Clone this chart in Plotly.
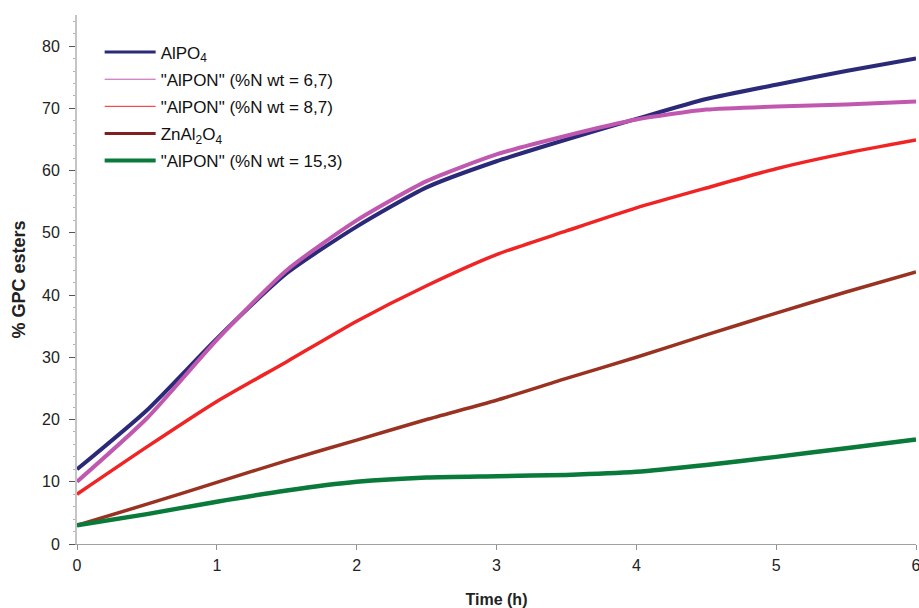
import plotly.graph_objects as go

time_h = [0, 0.5, 1, 1.5, 2, 2.5, 3, 3.5, 4, 4.5, 5, 5.5, 6]

alpo4 = [12, 21.5, 33, 43.5, 51, 57.3, 61.5, 65, 68.3, 71.5, 73.8, 76, 78]
alpon_67 = [10, 20.2, 32.8, 44, 52, 58.3, 62.6, 65.6, 68.2, 69.8, 70.3, 70.6, 71.1]
alpon_87 = [8, 15.6, 22.9, 29.3, 35.8, 41.5, 46.5, 50.3, 54.0, 57.2, 60.3, 62.8, 64.9]
znal2o4 = [3, 6.4, 9.9, 13.4, 16.7, 20.0, 23.1, 26.6, 30.0, 33.6, 37.1, 40.5, 43.7]
alpon_153 = [3, 4.8, 6.8, 8.6, 10.0, 10.7, 10.9, 11.1, 11.6, 12.7, 14.0, 15.4, 16.8]

series_names = [
    "AlPO<sub>4</sub>",
    "\"AlPON\" (%N wt = 6,7)",
    "\"AlPON\" (%N wt = 8,7)",
    "ZnAl<sub>2</sub>O<sub>4</sub>",
    "\"AlPON\" (%N wt = 15,3)",
]
series_values = [alpo4, alpon_67, alpon_87, znal2o4, alpon_153]
plot_colors = ["#2a2a78", "#c058b0", "#f02424", "#9a3222", "#0a7a3a"]
plot_widths = [4, 4, 3.5, 3.5, 4.5]
legend_colors = ["#2a2a78", "#c058b0", "#f02424", "#7f1f1f", "#0a7a3a"]
legend_widths = [3, 1, 1, 3, 4]

FONT = "Arial, Liberation Sans, Helvetica, sans-serif"

fig = go.Figure()
for name, vals, c, w in zip(series_names, series_values, plot_colors, plot_widths):
    fig.add_trace(go.Scatter(x=time_h, y=vals, mode="lines", name=name,
                             line=dict(color=c, width=w, shape="spline", smoothing=0.6),
                             showlegend=False, hoverinfo="x+y"))
for i, (name, c, w) in enumerate(zip(series_names, legend_colors, legend_widths)):
    fig.add_trace(go.Scatter(x=[None], y=[None], mode="lines", name=name,
                             legendgroup=f"g{i}",
                             line=dict(color=c, width=w), showlegend=True))

fig.update_layout(
    width=919, height=608,
    margin=dict(l=77, r=3, t=15, b=64, autoexpand=False),
    paper_bgcolor="white", plot_bgcolor="white",
    font=dict(family=FONT, size=16, color="#222"),
    showlegend=True,
    legend=dict(x=0.027, y=0.963, xanchor="left", yanchor="top",
                bgcolor="rgba(0,0,0,0)", borderwidth=0,
                font=dict(family=FONT, size=17, color="#111"),
                tracegroupgap=2, itemwidth=51),
    xaxis=dict(range=[0, 6], dtick=1, tick0=0, showgrid=False, zeroline=False,
               automargin=False, ticklabeloverflow="allow",
               showline=True, linecolor="#a0a0a0", linewidth=1,
               ticks="outside", ticklen=5, tickcolor="#909090",
               ticklabelstandoff=2,
               tickfont=dict(family=FONT, size=16, color="#222"),
               title=dict(text="<b>Time (h)</b>", font=dict(family=FONT, size=16, color="#222"),
                          standoff=29)),
    yaxis=dict(range=[0, 85], dtick=10, tick0=0, showgrid=False, zeroline=False,
               automargin=False,
               showline=True, linecolor="#c4c4c4", linewidth=2,
               ticks="outside", ticklen=6, tickcolor="#555",
               ticklabelstandoff=6,
               minor=dict(dtick=2, ticks="outside", ticklen=2, tickcolor="#b0b0b0", showgrid=False),
               tickfont=dict(family=FONT, size=16, color="#222"),
               title=dict(text="<b>% GPC esters</b>", font=dict(family=FONT, size=18, color="#222"),
                          standoff=12)),
)

fig.write_html("out.html", config={"displayModeBar": False},
               post_script="document.body.style.margin='0';")
